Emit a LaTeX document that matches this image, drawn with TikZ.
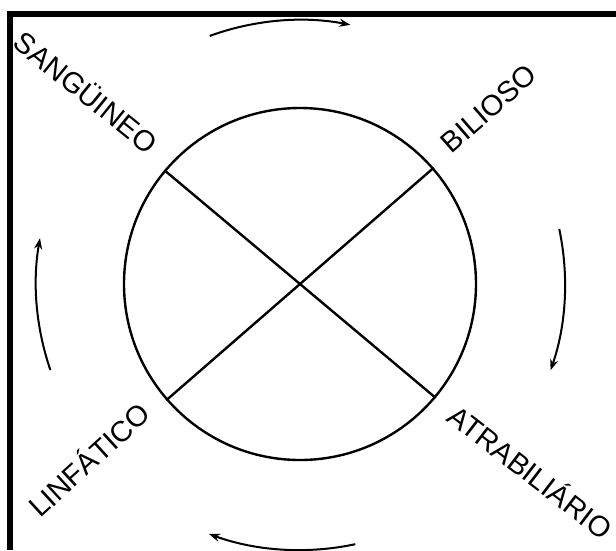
\documentclass[tikz,border=0pt]{standalone}
\usepackage{fontspec}
\setmainfont{Liberation Sans}
\usetikzlibrary{arrows.meta}
\begin{document}
\begin{tikzpicture}[x=1pt,y=1pt,
  frameline/.style={line width=6pt,line join=miter},
  ring/.style={circle,draw,line width=2.4pt,minimum size=352pt,inner sep=0pt},
  crossline/.style={line width=2.4pt},
  cyclearrow/.style={line width=2pt,-{Stealth[length=11pt,width=8pt]}},
  lbl/.style={font=\fontsize{29}{29}\selectfont,inner sep=0pt,text height=20.8pt,text depth=0pt}]
\useasboundingbox (-300,-266) rectangle (316,284);
% frame (top and left edges)
\coordinate (fb) at (-289.5,-266);
\coordinate (fc) at (-289.5,270);
\coordinate (fr) at (316,270);
\draw[frameline] (fb) -- (fc) -- (fr);
% circle and cross
\node[ring] (c) at (0,0) {};
\draw[crossline] (c.140) -- (c.-40);
\draw[crossline] (c.41) -- (c.221);
% labels
\node[lbl,rotate=-39] (sang) at (138.2:287.3) {SANGÜINEO};
\node[lbl,rotate=41] (bil) at (43:257.6) {BILIOSO};
\node[lbl,rotate=42.5] (linf) at (219.9:274.6) {LINFÁTICO};
\node[lbl,rotate=-37.5] (atra) at (320.7:297.4) {ATRABILIÁRIO};
% cycle arrows
\coordinate (at) at (110:264);
\coordinate (ar) at (12:265);
\coordinate (ab) at (282:266);
\coordinate (al) at (199:264);
\draw[cyclearrow] (at) arc[start angle=110,end angle=79,radius=264];
\draw[cyclearrow] (ar) arc[start angle=12,end angle=-19,radius=265];
\draw[cyclearrow] (ab) arc[start angle=282,end angle=250,radius=266];
\draw[cyclearrow] (al) arc[start angle=199,end angle=170,radius=264];
\end{tikzpicture}
\end{document}
